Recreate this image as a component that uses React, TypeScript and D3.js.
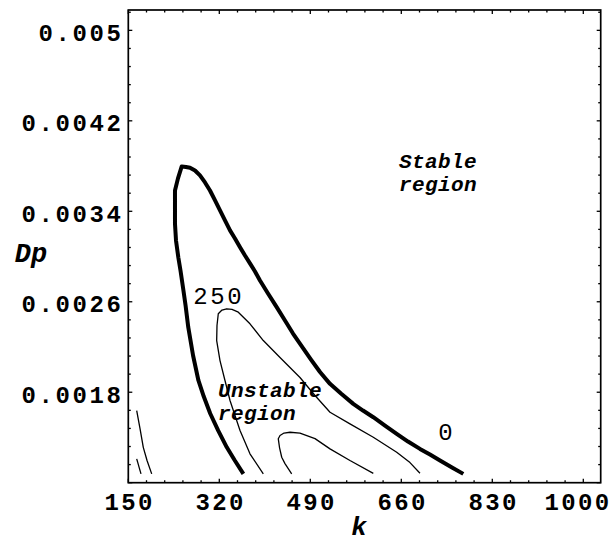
import { useEffect, useRef } from 'react';
import * as d3 from 'd3';

const W = 615;
const H = 542;

const kMajor = [150, 320, 490, 660, 830, 1000];
const dpMajor = [0.0018, 0.0026, 0.0034, 0.0042, 0.005];
const dpMajorLabels = ['0.0018', '0.0026', '0.0034', '0.0042', '0.005'];

// level 0 contour (stability boundary), [k, Dp]
const level0: [number, number][] = [
  [365, 0.001078], [349, 0.001196], [334, 0.001313], [318, 0.001461], [303, 0.001612],
  [291, 0.001762], [281, 0.001904], [271, 0.002125], [262, 0.002375], [257, 0.002567],
  [253, 0.0027], [247.5, 0.002877], [243.4, 0.002994], [239.1, 0.003142], [237.2, 0.003292],
  [237.2, 0.003452], [237.2, 0.003584], [242.8, 0.003691], [249.8, 0.003797], [257.8, 0.003792],
  [265.3, 0.003785], [274.6, 0.003761], [283.9, 0.003717], [293.3, 0.003655], [302.6, 0.003584],
  [312, 0.003496], [321.3, 0.003408], [330.6, 0.00332], [340, 0.003231], [349.3, 0.00316],
  [358.7, 0.003083], [368, 0.003009], [377.3, 0.002939], [386.7, 0.002868], [396, 0.002788],
  [411, 0.002673], [427.2, 0.002552], [442.7, 0.002434], [457.7, 0.002319], [474.5, 0.002204],
  [491.3, 0.002089], [508.1, 0.001979], [526.8, 0.001874], [547.3, 0.001788], [570.3, 0.001697],
  [588.4, 0.001638], [607.7, 0.001579], [629.5, 0.001505], [651.4, 0.001432], [672.5, 0.001364],
  [694.9, 0.001299], [713.6, 0.001249], [732.3, 0.001196], [754.7, 0.001134], [775.8, 0.001078],
];

// level 250 contour
const level250: [number, number][] = [
  [402.2, 0.001078], [377.3, 0.001255], [358.7, 0.001461], [340, 0.001727], [330.6, 0.001904],
  [321.3, 0.00208], [315.1, 0.002257], [315.7, 0.00239], [318.1, 0.002494], [325, 0.002527],
  [333.8, 0.002538], [343.7, 0.002532], [355.5, 0.002508], [377.3, 0.002405], [402.2, 0.002257],
  [433.4, 0.002107], [470.7, 0.00193], [498.8, 0.001771], [526.8, 0.001623], [564.1, 0.00152],
  [607.7, 0.001402], [651.4, 0.001269], [676.2, 0.001178], [694.9, 0.001083],
];

// inner contour (higher level)
const level500: [number, number][] = [
  [455.2, 0.001078], [442.7, 0.001169], [436.6, 0.001225], [432.5, 0.001311], [430.2, 0.001388],
  [433.4, 0.001417], [440.9, 0.001439], [452.1, 0.001446], [470.7, 0.001439], [498.8, 0.00139],
  [526.8, 0.001299], [564.1, 0.001196], [607.7, 0.001083],
];

// small contours near the left edge
const leftA: [number, number][] = [
  [165.7, 0.001638], [171.9, 0.001479], [178, 0.001313], [185, 0.001196], [193.7, 0.001078],
];
const leftB: [number, number][] = [
  [165.7, 0.001211], [173.7, 0.001078],
];

const contourLabels = [
  { text: '250', k: 316.6, dp: 0.002576 },
  { text: '0', k: 742.5, dp: 0.001382 },
];

const regionNotes = [
  { lines: ['Stable', 'region'], k: 655.7, dp: 0.003779 },
  { lines: ['Unstable', 'region'], k: 317.6, dp: 0.001762 },
];

const monoFont = "'Liberation Mono', 'DejaVu Sans Mono', monospace";
const courierFont = "'Courier New', 'Liberation Mono', monospace";

const App = () => {
  const svgRef = useRef<SVGSVGElement>(null);

  useEffect(() => {
    const svg = d3.select(svgRef.current);
    svg.selectAll('*').remove();

    const left = 128.3, right = 600.7, top = 10, bottom = 482.7;
    const x = d3.scaleLinear().domain([150, 1032.5]).range([left, right]);
    const y = d3.scaleLinear().domain([0.001, 0.00518]).range([bottom, top]);

    svg.append('rect').attr('width', W).attr('height', H).attr('fill', 'white');

    const g = svg.append('g');

    // ticks on all four sides, pointing inward
    const kTicks = d3.range(0, 27).map(i => 150 + i * 34).filter(v => v <= 1032);
    const dpTicks = d3.range(0, 27).map(i => 0.001 + i * 0.00016).filter(v => v <= 0.00518);

    kTicks.forEach((v, i) => {
      const len = i % 5 === 0 ? 4 : 2.5;
      const px = x(v);
      g.append('line').attr('x1', px).attr('x2', px).attr('y1', bottom).attr('y2', bottom - len)
        .attr('stroke', '#000').attr('stroke-width', 1.3);
      g.append('line').attr('x1', px).attr('x2', px).attr('y1', top).attr('y2', top + len)
        .attr('stroke', '#000').attr('stroke-width', 1.3);
    });
    dpTicks.forEach((v, i) => {
      const len = i % 5 === 0 ? 4 : 2.5;
      const py = y(v);
      g.append('line').attr('x1', left).attr('x2', left + len).attr('y1', py).attr('y2', py)
        .attr('stroke', '#000').attr('stroke-width', 1.3);
      g.append('line').attr('x1', right).attr('x2', right - len).attr('y1', py).attr('y2', py)
        .attr('stroke', '#000').attr('stroke-width', 1.3);
    });

    // frame
    g.append('rect')
      .attr('x', left).attr('y', top)
      .attr('width', right - left).attr('height', bottom - top)
      .attr('fill', 'none').attr('stroke', '#000').attr('stroke-width', 1.7);

    // tick labels (last one pulled in so it stays inside the picture)
    g.selectAll('text.k-tick')
      .data(kMajor)
      .join('text')
      .attr('class', 'k-tick')
      .attr('x', d => Math.min(x(d) + 1.3, 578))
      .attr('y', 510)
      .attr('text-anchor', 'middle')
      .style('font-family', monoFont)
      .style('font-weight', 'bold')
      .style('font-size', '24px')
      .style('letter-spacing', '2.4px')
      .text(d => String(d));

    g.selectAll('text.dp-tick')
      .data(dpMajor)
      .join('text')
      .attr('class', 'dp-tick')
      .attr('x', 123.5)
      .attr('y', d => y(d) + 10.6)
      .attr('text-anchor', 'end')
      .style('font-family', monoFont)
      .style('font-weight', 'bold')
      .style('font-size', '24px')
      .style('letter-spacing', '2.6px')
      .text((d, i) => dpMajorLabels[i]);

    // axis titles
    g.append('text')
      .attr('x', 359).attr('y', 535)
      .attr('text-anchor', 'middle')
      .style('font-family', courierFont)
      .style('font-weight', 'bold')
      .style('font-style', 'italic')
      .style('font-size', '26px')
      .text('k');

    g.append('text')
      .attr('x', 31).attr('y', 262)
      .attr('text-anchor', 'middle')
      .style('font-family', courierFont)
      .style('font-weight', 'bold')
      .style('font-style', 'italic')
      .style('font-size', '27px')
      .text('Dp');

    // contours
    const line = d3.line<[number, number]>()
      .x(d => x(d[0]))
      .y(d => y(d[1]));

    const thin = [level250, level500, leftA, leftB];
    thin.forEach(c => {
      g.append('path')
        .attr('d', line(c))
        .attr('fill', 'none')
        .attr('stroke', '#000')
        .attr('stroke-width', 1.3)
        .attr('stroke-linejoin', 'round');
    });

    g.append('path')
      .attr('d', line(level0))
      .attr('fill', 'none')
      .attr('stroke', '#000')
      .attr('stroke-width', 4)
      .attr('stroke-linejoin', 'round');

    // contour level labels
    g.selectAll('text.level')
      .data(contourLabels)
      .join('text')
      .attr('class', 'level')
      .attr('x', d => x(d.k) + 1.3)
      .attr('y', d => y(d.dp))
      .attr('text-anchor', 'middle')
      .style('font-family', monoFont)
      .style('font-size', '24px')
      .style('letter-spacing', '2.6px')
      .text(d => d.text);

    // region notes
    regionNotes.forEach(n => {
      const t = g.append('text')
        .attr('x', x(n.k))
        .attr('y', y(n.dp))
        .style('font-family', courierFont)
        .style('font-weight', 'bold')
        .style('font-style', 'italic')
        .style('font-size', '21px')
        .style('letter-spacing', '0.4px');
      n.lines.forEach((s, i) => {
        t.append('tspan')
          .attr('x', x(n.k))
          .attr('dy', i === 0 ? 0 : 23)
          .text(s);
      });
    });
  }, []);

  return (
    <svg
      ref={svgRef}
      width={W}
      height={H}
      viewBox={`0 0 ${W} ${H}`}
      style={{ position: 'absolute', left: 0, top: 0, display: 'block' }}
    />
  );
};

export default App;
